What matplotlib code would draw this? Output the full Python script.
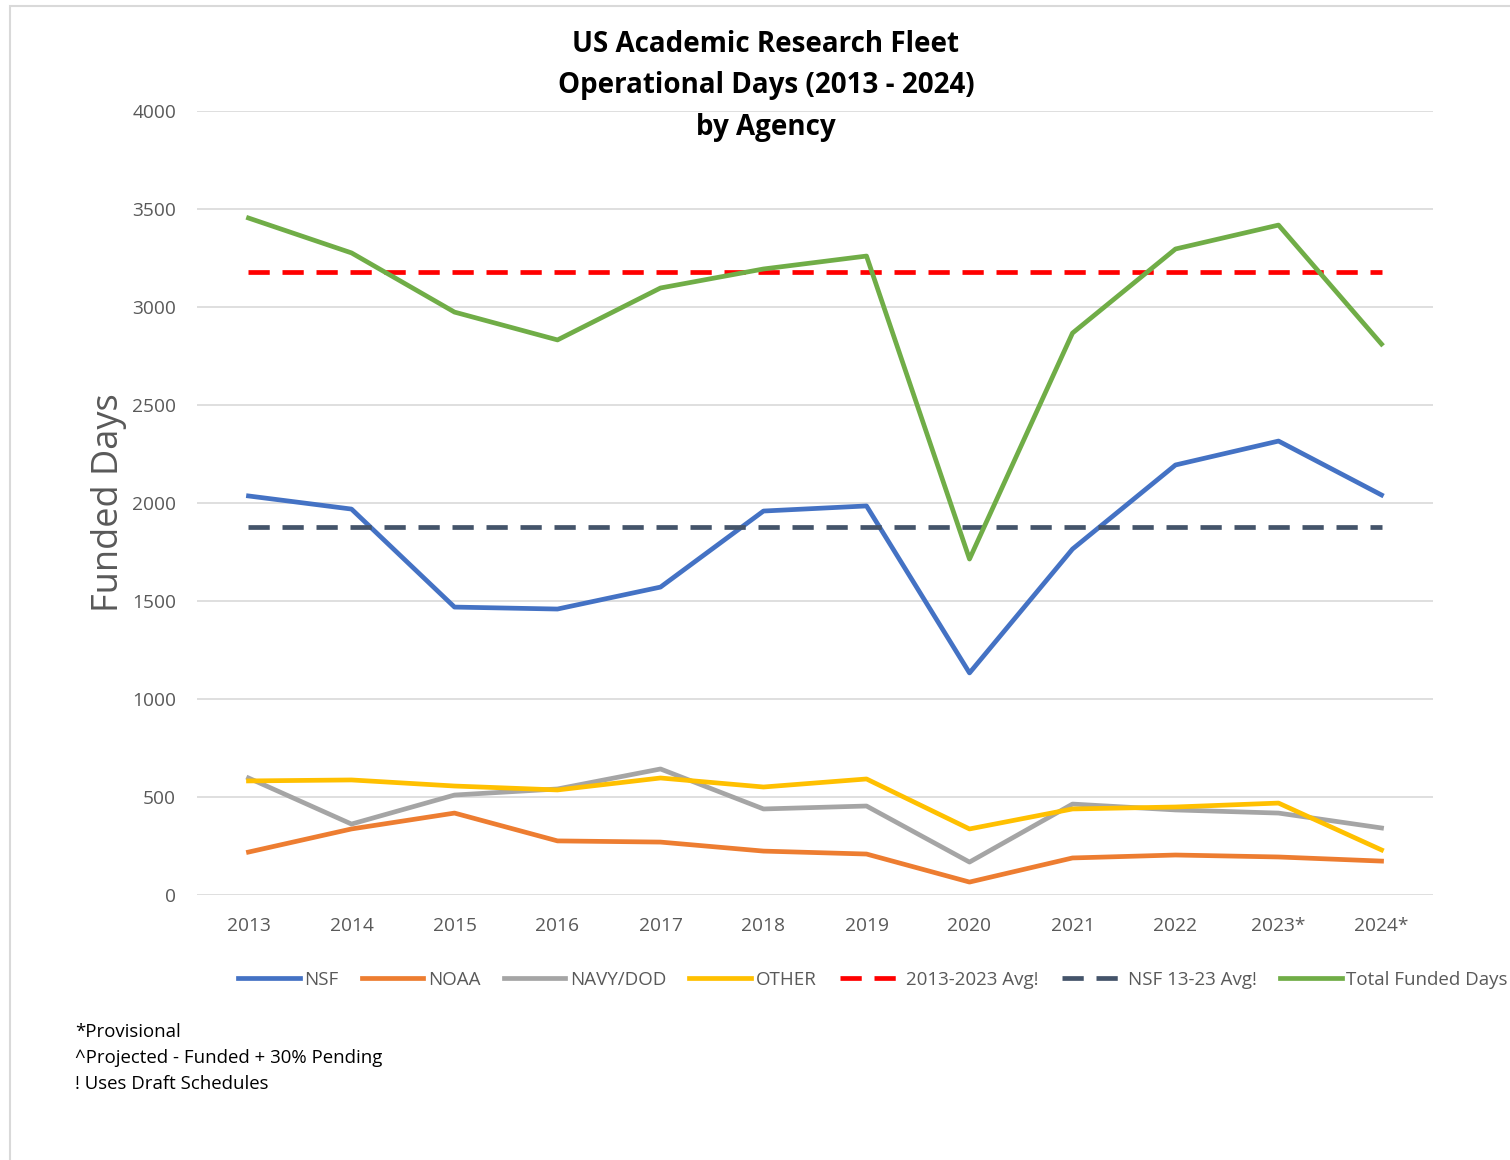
import numpy as np
import matplotlib
matplotlib.use("Agg")
import matplotlib.pyplot as plt
from matplotlib.patches import Rectangle

years = ["2013", "2014", "2015", "2016", "2017", "2018", "2019", "2020",
         "2021", "2022", "2023*", "2024*"]
nsf = [2036, 1969, 1469, 1459, 1571, 1959, 1985, 1133, 1765, 2194, 2316, 2041]
noaa = [219, 337, 418, 276, 270, 224, 209, 66, 189, 204, 194, 173]
navy = [597, 362, 510, 541, 643, 439, 454, 168, 464, 434, 418, 342]
other = [582, 587, 556, 536, 597, 551, 592, 337, 439, 449, 469, 230]
total = [3454, 3276, 2974, 2832, 3097, 3194, 3260, 1714, 2867, 3296, 3418, 2811]
avg_all = 3179
avg_nsf = 1878

plt.rcParams['font.family'] = ['Open Sans', 'DejaVu Sans']

fig = plt.figure(figsize=(15.1, 11.6), dpi=100)
ax = fig.add_axes([197/1510, 1 - 895/1160, 1236/1510, 784/1160])

x = np.arange(len(years))
lw = 3.4
ax.plot(x, nsf, color="#4472C4", lw=lw, label="NSF")
ax.plot(x, noaa, color="#ED7D31", lw=lw, label="NOAA")
ax.plot(x, navy, color="#A5A5A5", lw=lw, label="NAVY/DOD")
ax.plot(x, other, color="#FFC000", lw=lw, label="OTHER")
ax.plot(x, [avg_all] * len(x), color="#FF0000", lw=lw, dashes=(4.5, 2.7),
        label="2013-2023 Avg!")
ax.plot(x, [avg_nsf] * len(x), color="#44546A", lw=lw, dashes=(4.5, 2.7),
        label="NSF 13-23 Avg!")
ax.plot(x, total, color="#70AD47", lw=lw, label="Total Funded Days")

ax.set_xlim(-0.5, len(x) - 0.5)
ax.set_ylim(0, 4000)
ax.set_yticks(range(0, 4001, 500))
ax.set_xticks(x)
ax.set_xticklabels(years)
ax.grid(axis="y", color="#D9D9D9", lw=1.2)
ax.set_axisbelow(True)
for s in ax.spines.values():
    s.set_visible(False)
ax.tick_params(length=0, labelsize=13.8, colors="#595959")
ax.tick_params(axis="x", pad=16)
ax.tick_params(axis="y", pad=15)
ax.set_ylabel("Funded Days", fontsize=26, color="#595959", labelpad=4)

fig.text(766/1510, 1 - 86/1160,
         "US Academic Research Fleet\nOperational Days (2013 - 2024)\nby Agency",
         ha="center", va="center", fontsize=20, fontweight="bold",
         linespacing=1.55, zorder=5)

fig.legend(loc="center left", bbox_to_anchor=(221/1510, 1 - 980/1160),
           ncol=7, frameon=False, fontsize=13.5, handlelength=3.3,
           handletextpad=0.25, columnspacing=1.22, labelcolor="#595959")

fig.text(75/1510, 1 - 1032/1160, "*Provisional", fontsize=13.4, va="center")
fig.text(75/1510, 1 - 1058/1160, "^Projected - Funded + 30% Pending", fontsize=13.4, va="center")
fig.text(75/1510, 1 - 1084/1160, "! Uses Draft Schedules", fontsize=13.4, va="center")

fig.patches.append(Rectangle((10/1510, -0.01), 1.02, 1 - 6/1160 + 0.01,
                             transform=fig.transFigure, fill=False,
                             edgecolor="#D9D9D9", lw=1.5))

fig.savefig("out.png", dpi=100)
